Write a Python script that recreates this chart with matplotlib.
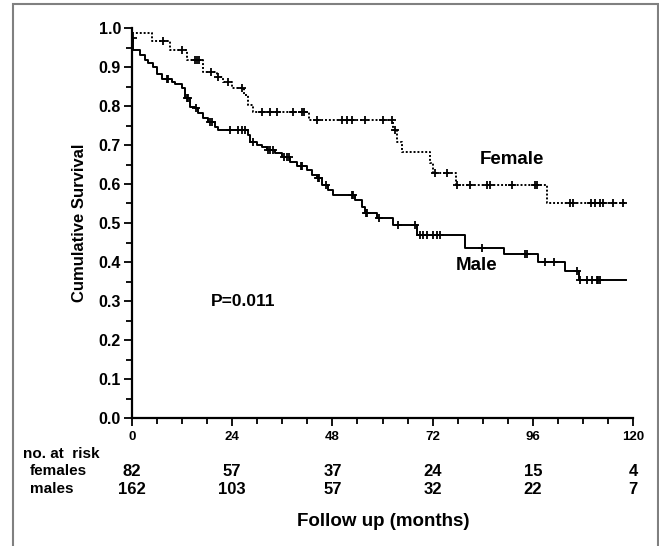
import matplotlib
matplotlib.use("Agg")
import matplotlib.pyplot as plt
from matplotlib.patches import Rectangle
from matplotlib.transforms import blended_transform_factory

plt.rcParams['font.family'] = ['Liberation Sans', 'DejaVu Sans']
plt.rcParams['font.weight'] = 'bold'

# Kaplan-Meier steps (months, survival after the step)
female_t = [0, 4.7, 9.1, 13.1, 17.1, 20.3, 21.9, 23.9, 26.8, 27.9, 29.1, 42.4,
            62.6, 63.4, 64.6, 71.4, 72.2, 77.6, 99.3, 118.0]
female_s = [0.988, 0.966, 0.944, 0.918, 0.888, 0.875, 0.862, 0.846, 0.828, 0.803,
            0.785, 0.764, 0.738, 0.708, 0.683, 0.653, 0.628, 0.597, 0.552, 0.552]
female_cens = [7.4, 12.0, 15.0, 15.6, 16.0, 19.0, 20.6, 23.0, 26.3, 31.1, 33.1, 34.7,
               38.6, 40.7, 41.1, 44.2, 50.2, 51.4, 52.6, 55.8, 60.2, 62.2, 63.0,
               72.6, 75.4, 77.8, 81.0, 85.0, 85.8, 91.0, 96.6, 97.0, 105.0, 105.6,
               109.9, 111.0, 112.2, 112.8, 115.3, 117.7]

male_t = [0, 0.3, 1.9, 3.1, 3.9, 5.1, 5.9, 7.1, 9.6, 10.4, 11.9, 12.7, 13.9, 15.1,
          15.9, 17.1, 18.3, 19.9, 20.7, 27.9, 28.3, 29.9, 31.1, 32.3, 34.3, 35.9,
          37.9, 39.5, 41.9, 43.1, 44.3, 45.5, 47.0, 48.2, 53.4, 55.0, 55.8, 58.6,
          62.6, 68.3, 79.8, 89.2, 97.3, 103.7, 107.0, 118.3]
male_s = [0.974, 0.944, 0.931, 0.918, 0.909, 0.901, 0.883, 0.868, 0.862, 0.856,
          0.845, 0.820, 0.798, 0.794, 0.781, 0.768, 0.760, 0.747, 0.738, 0.726,
          0.708, 0.700, 0.696, 0.687, 0.679, 0.670, 0.657, 0.645, 0.636, 0.623,
          0.615, 0.597, 0.585, 0.572, 0.559, 0.542, 0.525, 0.512, 0.495, 0.469,
          0.436, 0.420, 0.399, 0.378, 0.354, 0.354]
male_cens = [0.2, 8.3, 8.7, 13.2, 13.5, 15.4, 18.6, 19.1, 23.5, 25.5, 26.3, 27.1,
             29.0, 32.5, 33.1, 33.7, 36.5, 37.1, 37.7, 40.5, 40.8, 44.6, 44.9, 46.5,
             52.6, 53.0, 56.1, 56.4, 59.1, 63.8, 67.8, 69.0, 69.7, 70.7, 72.1, 73.1,
             73.8, 83.8, 94.2, 94.6, 99.0, 101.1, 106.5, 107.4, 109.0, 110.2, 111.4,
             111.7, 112.2]

risk_times = [0, 24, 48, 72, 96, 120]
risk_females = [82, 57, 37, 24, 15, 4]
risk_males = [162, 103, 57, 32, 22, 7]


def surv_at(times, surv, t):
    s = surv[0]
    for ti, si in zip(times, surv):
        if ti <= t:
            s = si
    return s


fig = plt.figure(figsize=(6.59, 5.46), dpi=100)
ax = fig.add_axes([132 / 659, 128 / 546, 501 / 659, 390 / 546])

ax.step(female_t, female_s, where='post', color='black', lw=1.4, linestyle=(0, (1.0, 1.0)))
ax.step(male_t, male_s, where='post', color='black', lw=1.4)
ax.plot(female_cens, [surv_at(female_t, female_s, t) for t in female_cens], '+',
        color='black', ms=6, mew=1.3)
ax.plot(male_cens, [surv_at(male_t, male_s, t) for t in male_cens], '+',
        color='black', ms=6, mew=1.3)

ax.set_xlim(0, 120)
ax.set_ylim(0, 1.0)
ax.set_xticks(risk_times)
ax.set_xticks(range(0, 121, 6), minor=True)
ax.set_yticks([i / 10 for i in range(11)])
ax.set_yticklabels(["%.1f" % (i / 10) for i in range(11)])
ax.set_yticks([i / 20 for i in range(21)], minor=True)
ax.tick_params(axis='both', which='major', direction='out', length=6, width=1.3)
ax.tick_params(axis='both', which='minor', direction='out', length=4, width=1.3)
ax.tick_params(axis='y', labelsize=11.5, pad=2)
ax.tick_params(axis='x', labelsize=9.5, pad=3)
for sp in ['top', 'right']:
    ax.spines[sp].set_visible(False)
for sp in ['left', 'bottom']:
    ax.spines[sp].set_linewidth(1.6)

ax.set_ylabel("Cumulative Survival", fontsize=12, fontweight='bold', labelpad=8)

ax.text(90.9, 0.662, "Female", fontsize=13.5, ha='center', va='center')
ax.text(82.5, 0.390, "Male", fontsize=13.5, ha='center', va='center')
ax.text(18.9, 0.298, "P=0.011", fontsize=12.5, ha='left', va='center')

# number at risk table
tr = blended_transform_factory(ax.transData, fig.transFigure)
fig.text(23 / 659, 1 - 454 / 546, "no. at  risk", fontsize=11, ha='left', va='center')
fig.text(30 / 659, 1 - 471 / 546, "females", fontsize=11, ha='left', va='center')
fig.text(30 / 659, 1 - 489 / 546, "males", fontsize=11, ha='left', va='center')
for t, nf, nm in zip(risk_times, risk_females, risk_males):
    ax.text(t, 1 - 471 / 546, str(nf), transform=tr, fontsize=12, ha='center', va='center')
    ax.text(t, 1 - 489 / 546, str(nm), transform=tr, fontsize=12, ha='center', va='center')

fig.text(383 / 659, 1 - 522 / 546, "Follow up (months)", fontsize=13.5, ha='center', va='center')

# grey frame around the figure
fig.patches.append(Rectangle((13 / 659, -0.05), 645 / 659, 1.05 - 4.5 / 546,
                             transform=fig.transFigure, fill=False,
                             edgecolor='#808080', lw=1.5))

fig.savefig("out.png", dpi=100)
